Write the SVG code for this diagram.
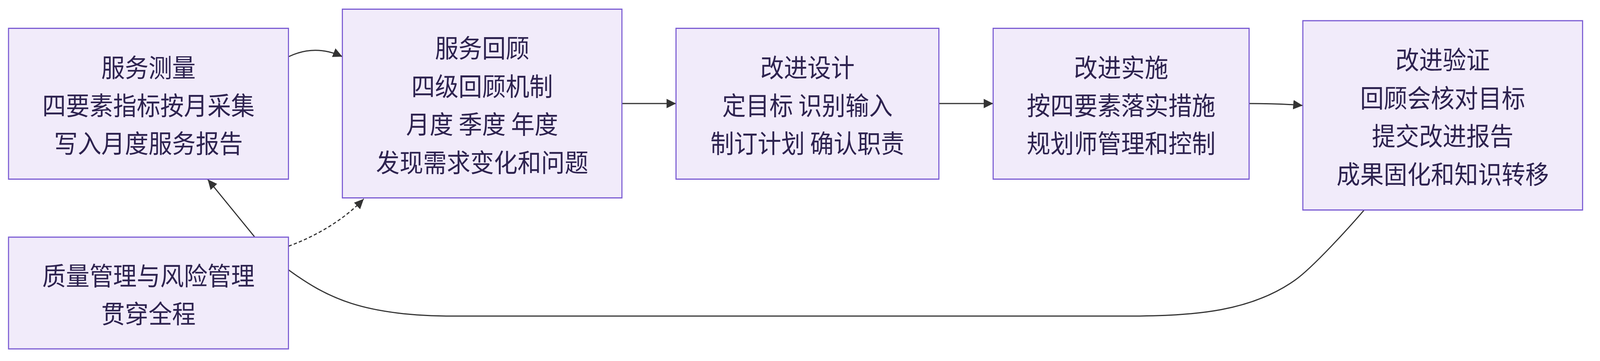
<svg xmlns="http://www.w3.org/2000/svg" width="4407" height="924" viewBox="0 0 4407 924" preserveAspectRatio="none">
<style>
svg{width:100vw;height:100vh}
.node rect{fill:#f1ebfa;stroke:#7b5cd3;stroke-width:3}
.node text{font-family:"Noto Sans CJK SC","Noto Sans",sans-serif;font-size:65px;fill:#2e2350;text-anchor:middle;dominant-baseline:central}
.edge{fill:none;stroke:#333333;stroke-width:3}
.dash{stroke-dasharray:9 6}
</style>
<defs>
<marker id="arrow" markerUnits="userSpaceOnUse" viewBox="0 0 10 10" refX="10" refY="5" markerWidth="26" markerHeight="24" orient="auto" preserveAspectRatio="none">
<path d="M0,0 L10,5 L0,10 z" fill="#333333"/>
</marker>
</defs>
<rect width="4407" height="924" fill="#ffffff"/>
<g id="edges">
<path class="edge" d="M795,145 C840,125 890,122 943,145" marker-end="url(#arrow)"/>
<path class="edge" d="M1713,265 H1862" marker-end="url(#arrow)"/>
<path class="edge" d="M2586,265 H2735.5" marker-end="url(#arrow)"/>
<path class="edge" d="M3440,265 C3500,265 3540,266 3588,270" marker-end="url(#arrow)"/>
<path class="edge" d="M701,606 L572,459" marker-end="url(#arrow)"/>
<path class="edge dash" d="M795,630 C875,603 950,560 1002,509" marker-end="url(#arrow)"/>
<path class="edge" d="M795,691 C900,762 1000,809 1250,809 L3100,809 C3300,809 3447,795.5 3567,717 C3617,684.3 3722,576 3757,538"/>
</g>
<g id="n1" class="node">
<rect x="23.5" y="72.5" width="771" height="386"/>
<text x="409" y="168.5">服务测量</text>
<text x="409" y="265.5">四要素指标按月采集</text>
<text x="409" y="362.5">写入月度服务报告</text>
</g>
<g id="n2" class="node">
<rect x="943" y="23.5" width="770" height="483"/>
<text x="1328" y="118.75">服务回顾</text>
<text x="1328" y="216.25">四级回顾机制</text>
<text x="1328" y="313.75">月度 季度 年度</text>
<text x="1328" y="411.25">发现需求变化和问题</text>
</g>
<g id="n3" class="node">
<rect x="1862" y="72.5" width="724" height="386"/>
<text x="2224" y="168.5">改进设计</text>
<text x="2224" y="265.5">定目标 识别输入</text>
<text x="2224" y="362.5">制订计划 确认职责</text>
</g>
<g id="n4" class="node">
<rect x="2735.5" y="72.5" width="705" height="386"/>
<text x="3088" y="168.5">改进实施</text>
<text x="3088" y="265.5">按四要素落实措施</text>
<text x="3088" y="362.5">规划师管理和控制</text>
</g>
<g id="n5" class="node">
<rect x="3588.5" y="53" width="770.5" height="484.5"/>
<text x="3973.75" y="148.75">改进验证</text>
<text x="3973.75" y="246.25">回顾会核对目标</text>
<text x="3973.75" y="343.75">提交改进报告</text>
<text x="3973.75" y="441.25">成果固化和知识转移</text>
</g>
<g id="n6" class="node">
<rect x="23.5" y="607" width="771" height="286"/>
<text x="409" y="701.25">质量管理与风险管理</text>
<text x="409" y="798.75">贯穿全程</text>
</g>
</svg>
